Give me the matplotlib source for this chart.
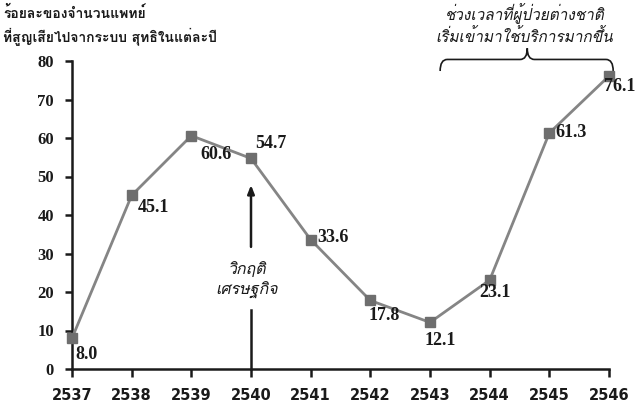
import matplotlib
matplotlib.use("Agg")
import matplotlib.pyplot as plt
from matplotlib.path import Path
from matplotlib.patches import PathPatch

years = [2537, 2538, 2539, 2540, 2541, 2542, 2543, 2544, 2545, 2546]
values = [8.0, 45.1, 60.6, 54.7, 33.6, 17.8, 12.1, 23.1, 61.3, 76.1]
yticks = [0, 10, 20, 30, 40, 50, 60, 70, 80]
label_offsets = [(3, -16), (6, -12), (9, -19), (4, 15), (7, 2),
                 (-2, -15), (-5, -18), (-10, -12), (6, 0), (-5, -10)]

ylabel_text = "ร้อยละของจำนวนแพทย์\nที่สูญเสียไปจากระบบ สุทธิในแต่ละปี"
period_text = "ช่วงเวลาที่ผู้ป่วยต่างชาติ\nเริ่มเข้ามาใช้บริการมากขึ้น"
crisis_text = "วิกฤติ\nเศรษฐกิจ"

THAI = ["Loma", "Noto Sans Thai Looped", "DejaVu Sans"]
SERIF = ["Liberation Serif", "DejaVu Serif"]

fig = plt.figure(figsize=(6.36, 4.05), dpi=100)
ax = fig.add_axes([72/636, 1-369/405, (609-72)/636, (369-61)/405])

ax.plot(years, values, color="#858585", lw=2.0, marker="s", ms=7,
        mfc="#6e6e6e", mec="#6e6e6e", zorder=3, clip_on=False)

for x, v, (dx, dy) in zip(years, values, label_offsets):
    t = ax.annotate(f"{v:.1f}", (x, v), xytext=(dx, dy), textcoords="offset pixels",
                    ha="left", va="center", fontsize=13, fontweight="bold",
                    family=SERIF, color="#1a1a1a", zorder=4)

ax.set_xlim(2537, 2546)
ax.set_ylim(0, 80)
ax.set_xticks(years)
ax.set_xticklabels([str(y) for y in years])
ax.set_yticks(yticks)
for s in ["top", "right"]:
    ax.spines[s].set_visible(False)
for s in ["left", "bottom"]:
    ax.spines[s].set_linewidth(1.8)
    ax.spines[s].set_color("#1a1a1a")
ax.tick_params(axis="x", direction="out", length=6, width=1.8, pad=8,
               labelsize=10.5, colors="#1a1a1a")
ax.tick_params(axis="y", direction="out", length=5, width=1.8, pad=8,
               labelsize=12, colors="#1a1a1a")
for lab in ax.get_xticklabels():
    lab.set_fontweight("bold")
    lab.set_family(["DejaVu Sans"])
for lab in ax.get_yticklabels():
    lab.set_fontweight("bold")
    lab.set_family(SERIF)

# crisis arrow at 2540
ax.plot([2540, 2540], [0, 15.3], color="#1a1a1a", lw=1.8, clip_on=False, zorder=2)
ax.annotate("", xy=(2540, 48.5), xytext=(2540, 31),
            arrowprops=dict(arrowstyle="-|>,head_length=0.5,head_width=0.2",
                            color="#1a1a1a", lw=1.8))
ax.text(2539.93, 23.0, crisis_text, ha="center", va="center", fontsize=11.5,
        style="italic", family=THAI, color="#1a1a1a", linespacing=1.3)

# brace over 2543-2546
bx0, bx1, bxm = 2543.17, 2546.07, 2544.63
ylo, yh, ytop = 77.4, 80.4, 83.3
verts = [(bx0, ylo), (bx0, yh), (bx0 + 0.12, yh),
         (bxm - 0.12, yh), (bxm, yh), (bxm, ytop),
         (bxm, yh), (bxm + 0.12, yh),
         (bx1 - 0.12, yh), (bx1, yh), (bx1, ylo)]
codes = [Path.MOVETO, Path.CURVE3, Path.CURVE3,
         Path.LINETO, Path.CURVE3, Path.CURVE3,
         Path.CURVE3, Path.CURVE3,
         Path.LINETO, Path.CURVE3, Path.CURVE3]
ax.add_patch(PathPatch(Path(verts, codes), fill=False, lw=1.2,
                       edgecolor="#1a1a1a", clip_on=False))
ax.text(2544.58, 89.6, period_text, ha="center", va="center", fontsize=11,
        style="italic", family=THAI, color="#1a1a1a", linespacing=1.25)

fig.text(3/636, 1-26/405, ylabel_text, ha="left", va="center", fontsize=10,
         fontweight="bold", family=THAI, color="#1a1a1a", linespacing=1.55)

fig.savefig("out.png", dpi=100)
